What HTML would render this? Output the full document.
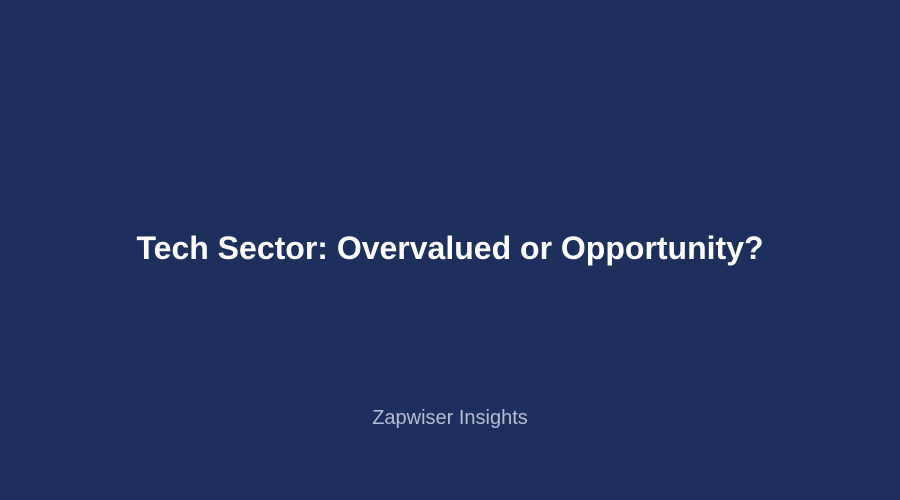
<!DOCTYPE html>
<html>
<head>
<meta charset="utf-8">
<style>
  html, body { margin: 0; padding: 0; }
  body {
    width: 900px; height: 500px; overflow: hidden;
    background: #1d2f5c;
    font-family: "Liberation Sans", Arial, sans-serif;
    position: relative;
  }
  .title {
    position: absolute; left: 0; width: 900px; top: 228px;
    text-align: center; color: #ffffff; font-weight: bold;
    font-size: 32px; line-height: 40px; margin: 0;
  }
  .subtitle {
    position: absolute; left: 0; width: 900px; top: 406px;
    text-align: center; color: #b4bdd4; font-size: 20px; line-height: 24px;
  }
</style>
</head>
<body>
  <h1 class="title">Tech Sector: Overvalued or Opportunity?</h1>
  <div class="subtitle">Zapwiser Insights</div>
</body>
</html>
